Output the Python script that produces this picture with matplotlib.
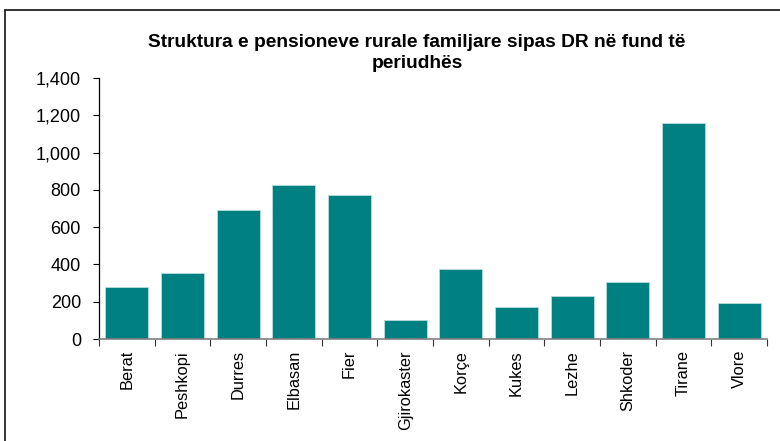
import matplotlib
matplotlib.use("Agg")
import matplotlib.pyplot as plt
from matplotlib.patches import Rectangle
from matplotlib.ticker import FuncFormatter, FixedLocator
import numpy as np

categories = ["Berat", "Peshkopi", "Durres", "Elbasan", "Fier", "Gjirokaster",
              "Korçe", "Kukes", "Lezhe", "Shkoder", "Tirane", "Vlore"]
values = [278, 355, 692, 824, 774, 102, 373, 170, 228, 307, 1159, 195]
title = "Struktura e pensioneve rurale familjare sipas DR në fund të\nperiudhës"

plt.rcParams['font.family'] = ['Liberation Sans', 'DejaVu Sans']

fig = plt.figure(figsize=(7.8, 4.41), dpi=100)
ax = fig.add_axes([99/780, 1-339/441, (767-99)/780, (339-78)/441])

x = np.arange(len(categories))
ax.bar(x, values, width=0.77, color='#008080', edgecolor='#b8dcdc', linewidth=0.6)

ax.set_xlim(-0.5, len(categories)-0.5)
ax.set_ylim(0, 1400)
ax.set_yticks(np.arange(0, 1401, 200))
ax.yaxis.set_major_formatter(FuncFormatter(lambda v, p: f"{int(v):,}"))
ax.tick_params(axis='y', direction='out', length=4, width=0.8, color='black',
               labelsize=13, pad=9)

ax.set_xticks(x)
ax.set_xticklabels(categories, rotation=90, fontsize=11.8)
ax.xaxis.set_minor_locator(FixedLocator(np.arange(-0.5, len(categories), 1.0)))
ax.tick_params(axis='x', which='major', length=0, pad=8)
ax.tick_params(axis='x', which='minor', direction='out', length=5, width=0.8, color='#333333')

for s in ['top', 'right']:
    ax.spines[s].set_visible(False)
ax.spines['left'].set_color('black')
ax.spines['left'].set_linewidth(0.9)
ax.spines['bottom'].set_color('#808080')
ax.spines['bottom'].set_linewidth(1.2)

fig.text(417/780, 1-53/441, title, ha='center', va='center', fontsize=13.8,
         fontweight='bold', linespacing=1.3)

fig.patches.append(Rectangle((5/780, -0.1), 1.2, 1-10/441+0.1, transform=fig.transFigure,
                             fill=False, edgecolor='#222222', linewidth=1.3))

fig.savefig("out.png", dpi=100)
